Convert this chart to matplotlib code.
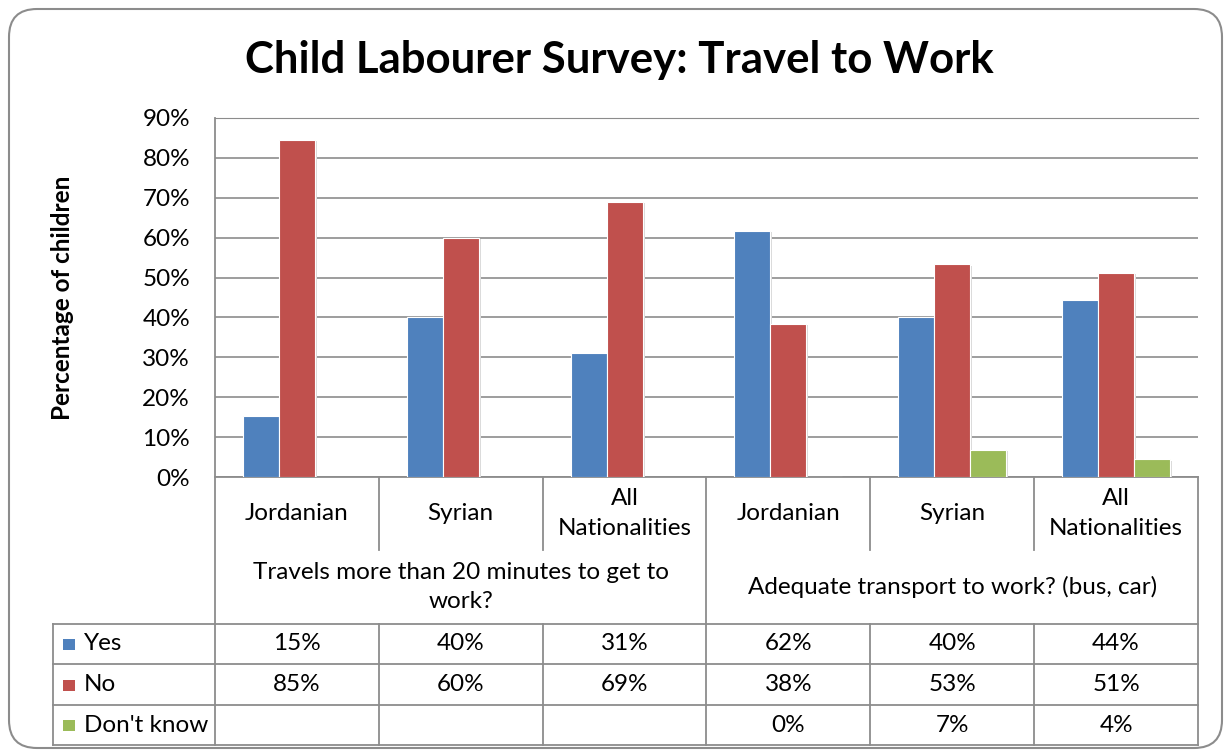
import numpy as np
import matplotlib.pyplot as plt
from matplotlib.patches import FancyBboxPatch, Rectangle
from matplotlib import transforms

plt.rcParams['font.family'] = ['Lato', 'DejaVu Sans']

# data
categories = ['Jordanian', 'Syrian', 'All\nNationalities',
              'Jordanian', 'Syrian', 'All\nNationalities']
groups = ['Travels more than 20 minutes to get to\nwork?',
          'Adequate transport to work? (bus, car)']
series_names = ['Yes', 'No', "Don't know"]
yes = [15.4, 40.0, 31.0, 61.6, 40.0, 44.4]
no = [84.6, 60.0, 69.0, 38.4, 53.3, 51.1]
dont_know = [None, None, None, 0.0, 6.7, 4.4]
colors = ['#4F81BD', '#C0504D', '#9BBB59']

FS = 17.5
W, H = 1231, 756
fig = plt.figure(figsize=(W / 100, H / 100), dpi=100)

# overlay in pixel coords for frame + table
ov = fig.add_axes([0, 0, 1, 1])
ov.set_xlim(0, W)
ov.set_ylim(H, 0)
ov.axis('off')

frame = FancyBboxPatch((9, 9), W - 18, H - 17, boxstyle='round,pad=0,rounding_size=28',
                       fc='white', ec='#8c8c8c', lw=1.5, zorder=0)
ov.add_patch(frame)

# plot area
left, right, top, bottom = 215, 1198, 118, 477
ax = fig.add_axes([left / W, 1 - bottom / H, (right - left) / W, (bottom - top) / H])
ax.patch.set_alpha(0)
n = len(categories)
x = np.arange(n)
bw = 0.22
all_series = [yes, no, dont_know]
for k, vals in enumerate(all_series):
    v = np.array([np.nan if a is None else a for a in vals])
    # soft shadow
    ax.bar(x + (k - 1) * bw + 0.012, v, bw, bottom=-0.3, color='#d9d9d9', zorder=2, lw=0)
    ax.bar(x + (k - 1) * bw, v, bw, color=colors[k], edgecolor='white', lw=0.8, zorder=3)

ax.set_xlim(-0.5, n - 0.5)
ax.set_ylim(0, 90)
ax.set_yticks(np.arange(0, 91, 10))
ax.set_yticklabels([f'{t}%' for t in range(0, 91, 10)], fontsize=FS)
ax.tick_params(axis='y', length=0, pad=18)
ax.set_xticks([])
ax.grid(axis='y', color='#8c8c8c', lw=1.2, zorder=1)
for s in ['right', 'bottom']:
    ax.spines[s].set_visible(False)
ax.spines['top'].set_color('#8c8c8c')
ax.spines['left'].set_visible(False)

fig.text(62 / W, 1 - 298 / H, 'Percentage of children', rotation=90, fontsize=FS,
         fontweight='bold', ha='center', va='center')
fig.text(619 / W, 1 - 60 / H, 'Child Labourer Survey: Travel to Work', fontsize=31.5,
         fontweight='bold', ha='center', va='center')

# table
lc = '#8c8c8c'
lw = 1.3
tr = transforms.blended_transform_factory(ax.transData, ov.transData)
rows = [477, 550, 624, 664, 705, 745]
xl = 53
bounds = np.arange(n + 1) - 0.5

# horizontal lines
ov.plot([bounds[0], bounds[-1]], [rows[0], rows[0]], color=lc, lw=lw, transform=tr, zorder=4)
for y in rows[2:]:
    ov.plot([xl, right], [y, y], color=lc, lw=lw, zorder=4)
# vertical lines
ov.plot([bounds[0], bounds[0]], [top, rows[-1]], color=lc, lw=lw, transform=tr, zorder=4)
ov.plot([bounds[-1], bounds[-1]], [rows[0], rows[-1]], color=lc, lw=lw, transform=tr, zorder=4)
ov.plot([xl, xl], [rows[2], rows[-1]], color=lc, lw=lw, zorder=4)
for i, b in enumerate(bounds[1:-1], start=1):
    if i == 3:
        ov.plot([b, b], [rows[0], rows[-1]], color=lc, lw=lw, transform=tr, zorder=4)
    else:
        ov.plot([b, b], [rows[0], rows[1]], color=lc, lw=lw, transform=tr, zorder=4)
        ov.plot([b, b], [rows[2], rows[-1]], color=lc, lw=lw, transform=tr, zorder=4)

for i, c in enumerate(categories):
    ov.text(i, (rows[0] + rows[1]) / 2, c, transform=tr, ha='center', va='center',
            fontsize=FS, linespacing=1.55)
for g, name in enumerate(groups):
    ov.text(g * 3 + 1, (rows[1] + rows[2]) / 2, name, transform=tr, ha='center',
            va='center', fontsize=FS, linespacing=1.5)

for k, vals in enumerate(all_series):
    yc = (rows[2 + k] + rows[3 + k]) / 2
    ov.add_patch(Rectangle((63, yc - 5), 12, 11, fc=colors[k], ec='none', zorder=5))
    ov.text(84, yc, series_names[k], ha='left', va='center', fontsize=FS)
    for i, v in enumerate(vals):
        if v is None:
            continue
        ov.text(i, yc, f'{round(v):.0f}%', transform=tr, ha='center', va='center', fontsize=FS)

fig.savefig('out.png', dpi=100)
